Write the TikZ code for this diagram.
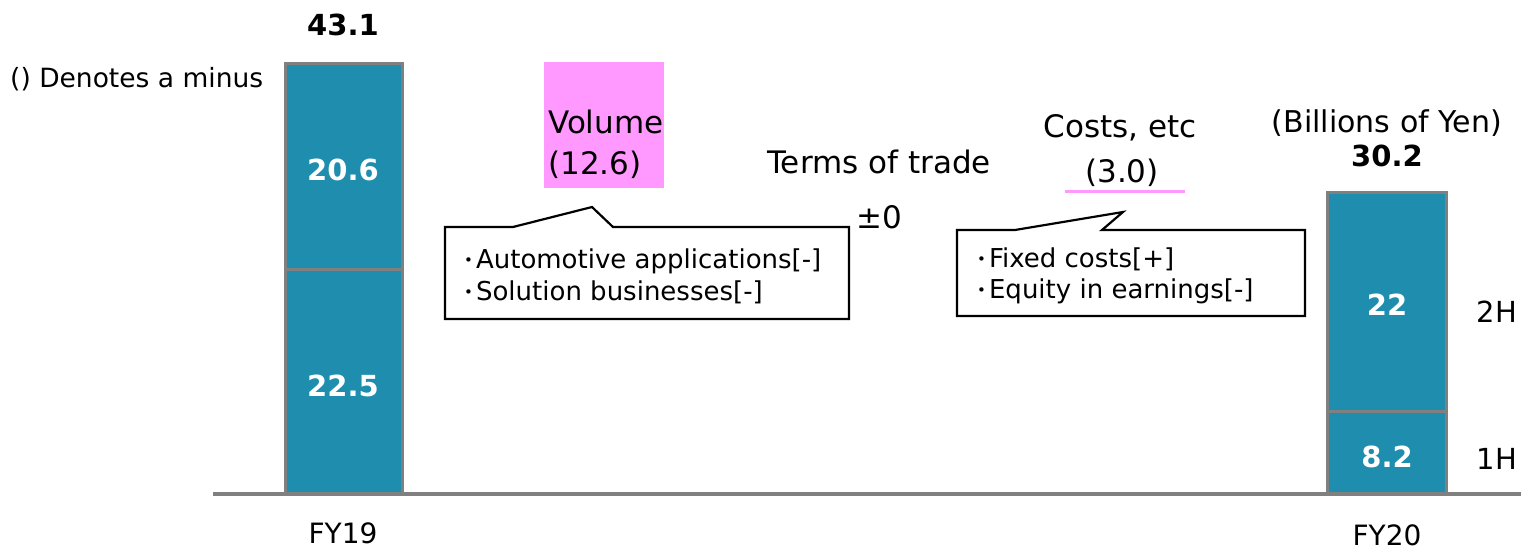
\documentclass[tikz,border=0pt]{standalone}
\usepackage{fontspec}
\setmainfont{DejaVu Sans}
\definecolor{barteal}{RGB}{31,141,174}
\definecolor{axisgray}{RGB}{128,128,128}
\definecolor{hipink}{RGB}{255,153,255}
\newcommand{\bul}{\raisebox{2.5pt}{\fontsize{15}{15}\selectfont •}\hspace{3pt}}
\begin{document}
\begin{tikzpicture}[x=1pt,y=-1pt,
  lbl/.style={anchor=base,inner sep=0pt,font=\fontsize{31}{36}\selectfont},
  small/.style={anchor=base,inner sep=0pt,font=\fontsize{28}{32}\selectfont},
  num/.style={anchor=base,inner sep=0pt,font=\fontsize{29}{34}\selectfont\bfseries},
  barnum/.style={num,text=white},
  barseg/.style={fill=barteal,draw=axisgray,line width=3pt},
  callout/.style={draw=black,line width=2.2pt,fill=white,line join=miter},
  bullets/.style={anchor=base west,inner sep=0pt,font=\fontsize{26}{32}\selectfont}]
\useasboundingbox (0,0) rectangle (1521,549);

% FY19 bar
\draw[barseg] (285,269) rectangle (402,494);
\draw[barseg] (285,63) rectangle (402,269);
\node[barnum] (a1) at (343,180) {20.6};
\node[barnum] (a2) at (343,396) {22.5};
\node[num] (tot19) at (343,35) {43.1};
\node[small,anchor=base west,font=\fontsize{26.5}{30}\selectfont] (note) at (10,87) {() Denotes a minus};

% FY20 bar
\draw[barseg] (1327,411) rectangle (1446,494);
\draw[barseg] (1327,192) rectangle (1446,411);
\node[barnum] (b2) at (1387,315) {22};
\node[barnum] (b1) at (1387,467) {8.2};
\node[num] (tot20) at (1387,166) {30.2};
\node[small,font=\fontsize{30}{34}\selectfont] (unit) at (1387,132) {(Billions of Yen)};
\node[small,font=\fontsize{29}{34}\selectfont] (h2) at (1497,322) {2H};
\node[small,font=\fontsize{29}{34}\selectfont] (h1) at (1497,469) {1H};

% axis
\draw[axisgray,line width=4pt] (213,494) -- (1521,494);
\node[small] (fy19) at (343,543) {FY19};
\node[small] (fy20) at (1387,545) {FY20};

% volume
\fill[hipink] (544,62) rectangle (664,188);
\node[lbl,anchor=base west] (vol) at (548,133) {Volume};
\node[lbl,anchor=base west] (volv) at (548,174) {(12.6)};

% terms of trade
\node[lbl] (tot) at (879,173) {Terms of trade};
\node[lbl] (totv) at (879,228) {±0};

% costs
\node[lbl] (cost) at (1120,137) {Costs, etc};
\node[lbl] (costv) at (1122,182) {(3.0)};
\draw[hipink,line width=3pt] (1065,191) -- (1185,191);

% callout boxes
\draw[callout] (445,227) -- (513,227) -- (592,207) -- (613,227) -- (849,227)
  -- (849,319) -- (445,319) -- cycle;
\node[bullets] (c1a) at (464,268) {\bul Automotive applications[-]};
\node[bullets] (c1b) at (464,300) {\bul Solution businesses[-]};

\draw[callout] (957,230) -- (1015,230) -- (1123,212) -- (1102,230) -- (1305,230)
  -- (1305,316) -- (957,316) -- cycle;
\node[bullets] (c2a) at (977,267) {\bul Fixed costs[+]};
\node[bullets] (c2b) at (977,298) {\bul Equity in earnings[-]};
\end{tikzpicture}
\end{document}
